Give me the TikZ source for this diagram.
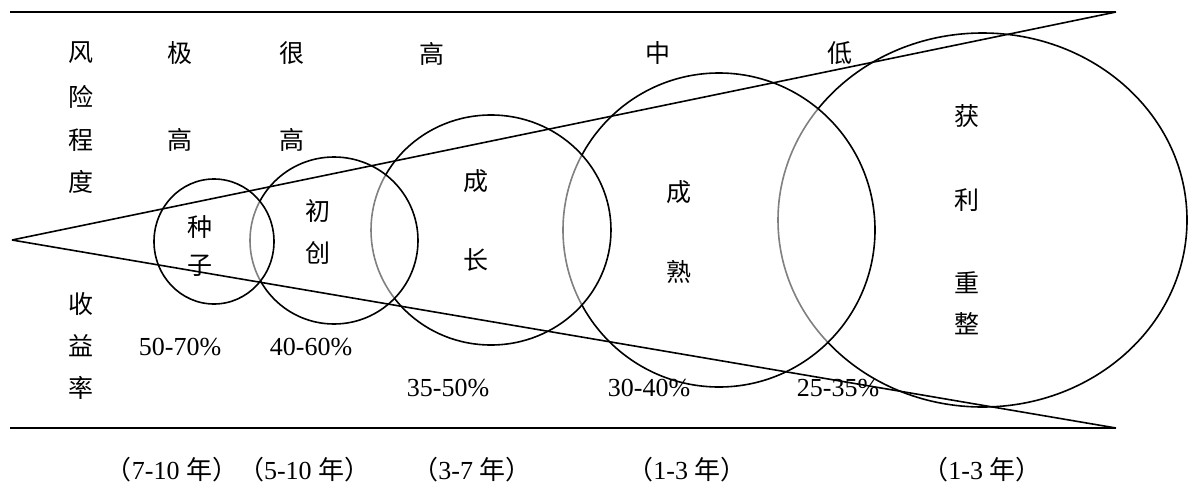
\documentclass[tikz,border=0pt]{standalone}
\usepackage{fontspec}
\setmainfont{Liberation Serif}
\newfontfamily\cjk{Noto Sans CJK SC}
\usetikzlibrary{shapes.geometric}
\begin{document}
\begin{tikzpicture}[x=1pt,y=-1pt,
  stage/.style={draw=black, line width=1.6pt, fill=white, fill opacity=0.5, ellipse, inner sep=0pt, outer sep=0pt},
  ck/.style={font=\cjk\fontsize{25}{30}\selectfont, inner sep=0pt},
  lt/.style={font=\fontsize{26}{30}\selectfont, inner sep=0pt},
  rule/.style={line width=1.6pt}]
\useasboundingbox (0,0) rectangle (1189,485);
% stages, largest first so smaller ones veil the arcs beneath
\node[stage, minimum width=409pt, minimum height=374pt] (s5) at (982.5,220) {};
\node[stage, minimum width=312pt, minimum height=314pt] (s4) at (719,230) {};
\node[stage, minimum width=240pt, minimum height=230pt] (s3) at (491,230) {};
\node[stage, minimum width=168pt, minimum height=167pt] (s2) at (334,240.5) {};
\node[stage, minimum width=120pt, minimum height=125pt] (s1) at (214,241.5) {};
% rules and cone
\coordinate (tl) at (10,12);
\coordinate (tr) at (1116,12);
\coordinate (bl) at (10,428);
\coordinate (br) at (1116,428);
\coordinate (apex) at (12,240);
\draw[rule] (tl) -- (tr);
\draw[rule] (bl) -- (br);
\draw[rule] (apex) -- (tr);
\draw[rule] (apex) -- (br);
% risk column
\node[ck] (r1) at (81,53) {风};
\node[ck] (r2) at (81,97) {险};
\node[ck] (r3) at (81,140) {程};
\node[ck] (r4) at (81,182) {度};
\node[ck] (a1) at (180,53) {极};
\node[ck] (a2) at (180,140) {高};
\node[ck] (b1) at (292,53) {很};
\node[ck] (b2) at (292,140) {高};
\node[ck] (c1) at (432,54) {高};
\node[ck] (d1) at (658,53) {中};
\node[ck] (e1) at (840,53) {低};
% stage names
\node[ck] (n1a) at (200,227) {种};
\node[ck] (n1b) at (200,266) {子};
\node[ck] (n2a) at (318,211) {初};
\node[ck] (n2b) at (318,253) {创};
\node[ck] (n3a) at (476,181) {成};
\node[ck] (n3b) at (476,260) {长};
\node[ck] (n4a) at (679,192) {成};
\node[ck] (n4b) at (679,272) {熟};
\node[ck] (n5a) at (967,116) {获};
\node[ck] (n5b) at (967,200) {利};
\node[ck] (n5c) at (967,283) {重};
\node[ck] (n5d) at (967,324) {整};
% return column
\node[ck] (y1) at (81,304) {收};
\node[ck] (y2) at (81,346) {益};
\node[ck] (y3) at (81,388) {率};
\node[lt] (p1) at (180,347) {50-70\%};
\node[lt] (p2) at (311,347) {40-60\%};
\node[lt] (p3) at (448,388) {35-50\%};
\node[lt] (p4) at (649,388) {30-40\%};
\node[lt] (p5) at (838,388) {25-35\%};
% durations
\node[lt] (t1) at (238,470) {{\cjk （}7-10 {\cjk 年）（}5-10 {\cjk 年）}};
\node[lt] (t2) at (472,470) {{\cjk （}3-7 {\cjk 年）}};
\node[lt] (t3) at (687,470) {{\cjk （}1-3 {\cjk 年）}};
\node[lt] (t4) at (982,470) {{\cjk （}1-3 {\cjk 年）}};
\end{tikzpicture}
\end{document}
